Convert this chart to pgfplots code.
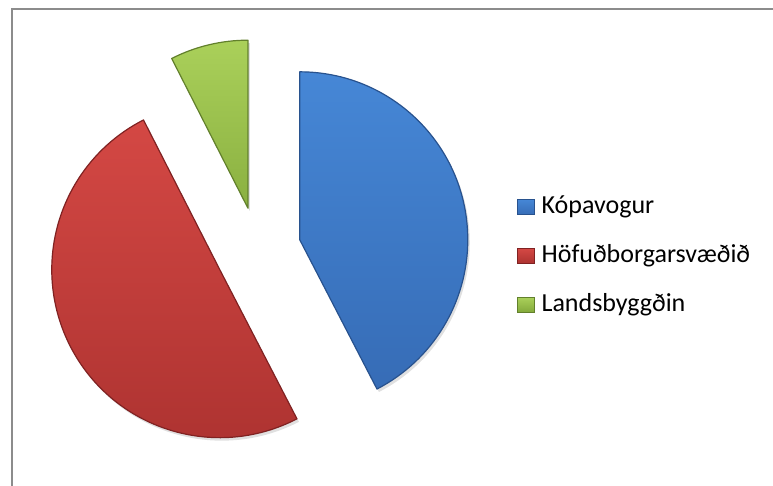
\documentclass[border=0pt]{standalone}
\usepackage{fontspec}
\setmainfont{Carlito}
\usepackage{pgfplots}
\usepackage{pgfplotstable}
\pgfplotsset{compat=1.18}

\definecolor{kopTop}{RGB}{70,135,214}
\definecolor{kopBot}{RGB}{54,108,182}
\definecolor{kopEdge}{RGB}{40,82,142}
\definecolor{hofTop}{RGB}{212,72,68}
\definecolor{hofBot}{RGB}{172,50,48}
\definecolor{hofEdge}{RGB}{128,34,34}
\definecolor{lanTop}{RGB}{170,208,90}
\definecolor{lanBot}{RGB}{130,168,58}
\definecolor{lanEdge}{RGB}{98,128,44}
\definecolor{frame}{RGB}{140,140,140}

% share of each group (percent)
\pgfplotstableread{
value
42.4
50.1
7.5
}\piedata

% pie centre (px, y up), explode distance and radius
\newcommand\slice[5]{%
  \fill[black, opacity=0.12, xshift=1pt, yshift=-1.5pt]
    (axis cs:258,236) ++({(#1+#2)/2}:21.5pt) -- ++(#1:84pt)
    arc[start angle=#1, end angle=#2, radius=84pt] -- cycle;
  \path[top color=#3, bottom color=#4, draw=#5, line width=0.6pt, line join=round]
    (axis cs:258,236) ++({(#1+#2)/2}:21.5pt) -- ++(#1:84pt)
    arc[start angle=#1, end angle=#2, radius=84pt] -- cycle;
}

\begin{document}
\begin{tikzpicture}
\pgfplotstablegetelem{0}{value}\of\piedata \let\vA\pgfplotsretval
\pgfplotstablegetelem{1}{value}\of\piedata \let\vB\pgfplotsretval
\pgfplotstablegetelem{2}{value}\of\piedata \let\vC\pgfplotsretval
\pgfmathsetmacro\tot{\vA+\vB+\vC}
\pgfmathsetmacro\aA{90-(360/\tot)*\vA}
\pgfmathsetmacro\aB{\aA-(360/\tot)*\vB}
\pgfmathsetmacro\aC{\aB-(360/\tot)*\vC}
\begin{axis}[
    width=386.5pt, height=243pt,
    scale only axis,
    xmin=0, xmax=773, ymin=0, ymax=486,
    hide axis,
    legend image code/.code={\draw[#1, line width=0.4pt] (0pt,-3.8pt) rectangle (8.4pt,3.8pt);},
    legend style={at={(axis cs:517,230)}, anchor=west, draw=none, fill=none,
        inner sep=0pt, outer sep=0pt, row sep=12pt,
        font=\fontsize{13pt}{15pt}\selectfont,
        nodes={inner sep=0pt, text height=9.5pt, text depth=3pt},
        /tikz/every odd column/.append style={column sep=3.5pt}},
    legend cell align=left,
]
\path (axis cs:0,0) rectangle (axis cs:773,486);
\draw[frame, line width=1pt] (axis cs:12,0) -- (axis cs:12,477) -- (axis cs:773,477);

\slice{90}{\aA}{kopTop}{kopBot}{kopEdge}
\slice{\aA}{\aB}{hofTop}{hofBot}{hofEdge}
\slice{\aB}{\aC}{lanTop}{lanBot}{lanEdge}

\addlegendimage{top color=kopTop, bottom color=kopBot, draw=kopEdge}
\addlegendentry{Kópavogur}
\addlegendimage{top color=hofTop, bottom color=hofBot, draw=hofEdge}
\addlegendentry{Höfuðborgarsvæðið}
\addlegendimage{top color=lanTop, bottom color=lanBot, draw=lanEdge}
\addlegendentry{Landsbyggðin}
\end{axis}
\end{tikzpicture}
\end{document}
